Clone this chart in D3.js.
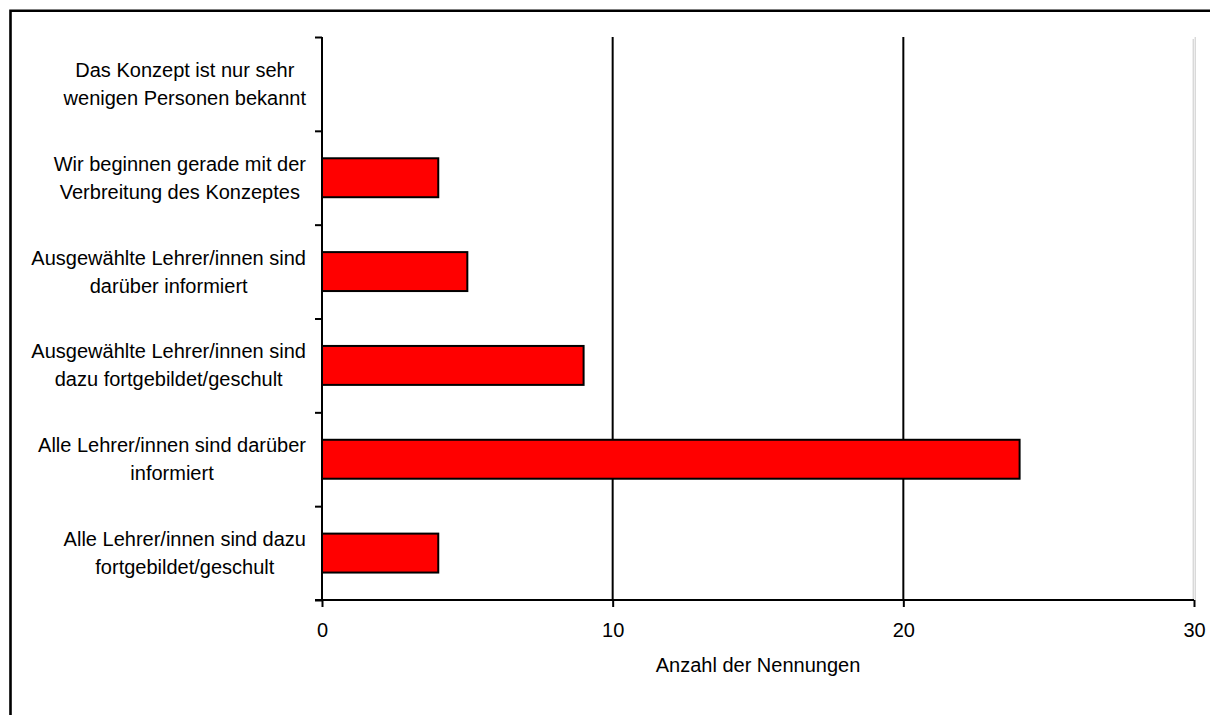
<!DOCTYPE html>
<html>
<head>
<meta charset="utf-8">
<script src="https://cdn.jsdelivr.net/npm/d3@7"></script>
<style>
  html, body { margin: 0; padding: 0; background: #fff; }
  svg { display: block; }
  text { font-family: "Liberation Sans", Arial, sans-serif; fill: #000; }
</style>
</head>
<body>
<svg id="chart" width="1210" height="715"></svg>
<script>
// Survey answers (each entry is one wrapped label, lines in order)
const categories = [
  ["Das Konzept ist nur sehr", "wenigen Personen bekannt"],
  ["Wir beginnen gerade mit der", "Verbreitung des Konzeptes"],
  ["Ausgewählte Lehrer/innen sind", "darüber informiert"],
  ["Ausgewählte Lehrer/innen sind", "dazu fortgebildet/geschult"],
  ["Alle Lehrer/innen sind darüber", "informiert"],
  ["Alle Lehrer/innen sind dazu", "fortgebildet/geschult"]
];
const counts = [0, 4, 5, 9, 24, 4];
const xTicks = [0, 10, 20, 30];
const xTitle = "Anzahl der Nennungen";

const svg = d3.select("#chart");
const plotLeft = 322, plotRight = 1194, plotTop = 37, plotBottom = 600;
const fontSize = 20;

// outer frame (open on the right and bottom)
svg.append("path")
  .attr("d", "M10.5,715V10.8H1210")
  .attr("fill", "none").attr("stroke", "#000").attr("stroke-width", 2.6);

const x = d3.scaleLinear().domain([0, 30]).range([plotLeft, plotRight]);
const y = d3.scaleBand().domain(d3.range(categories.length)).range([plotTop, plotBottom])
  .paddingInner(0.585).paddingOuter(0.2925);
const yBands = d3.scaleLinear().domain([0, categories.length]).range([plotTop, plotBottom]);

// light frame at the right edge of the plot area
svg.append("line").attr("x1", 1193.2).attr("x2", 1193.2).attr("y1", 39).attr("y2", plotBottom)
  .attr("stroke", "#c8c8c8").attr("stroke-width", 1);
svg.append("line").attr("x1", 1195.2).attr("x2", 1195.2).attr("y1", 37).attr("y2", plotBottom)
  .attr("stroke", "#c8c8c8").attr("stroke-width", 1);

// vertical gridlines
svg.append("g").selectAll("line").data(xTicks.filter(d => d > 0 && d < 30)).join("line")
  .attr("x1", d => x(d)).attr("x2", d => x(d))
  .attr("y1", plotTop).attr("y2", plotBottom)
  .attr("stroke", "#000").attr("stroke-width", 2);

// bars
svg.append("g").selectAll("rect").data(counts.map((v, i) => ({v, i})).filter(d => d.v > 0)).join("rect")
  .attr("x", x(0)).attr("y", d => y(d.i))
  .attr("width", d => x(d.v) - x(0)).attr("height", y.bandwidth())
  .attr("fill", "#ff0000").attr("stroke", "#000").attr("stroke-width", 2);

// y axis with ticks at band boundaries
const yAxis = d3.axisLeft(yBands).tickValues(d3.range(categories.length + 1))
  .tickSize(7).tickFormat("");
const gy = svg.append("g").attr("transform", `translate(${plotLeft},0)`).call(yAxis);
gy.select(".domain").attr("d", `M0,${plotTop}V${plotBottom}`).attr("stroke-width", 2);
gy.selectAll(".tick line").attr("stroke-width", 2);

// x axis
const xAxis = d3.axisBottom(x).tickValues(xTicks).tickSize(7).tickFormat(d3.format("d"));
const gx = svg.append("g").attr("transform", `translate(0,${plotBottom})`).call(xAxis);
gx.select(".domain").attr("d", `M${plotLeft - 7},0H${plotRight}`).attr("stroke-width", 2);
gx.selectAll(".tick line").attr("stroke-width", 2);
gx.selectAll(".tick text").attr("y", 23).attr("dy", "0.71em")
  .style("font-size", fontSize + "px").style("font-family", '"Liberation Sans", Arial, sans-serif');

// axis title
svg.append("text").attr("x", (plotLeft + plotRight) / 2).attr("y", 672)
  .attr("text-anchor", "middle").style("font-size", fontSize + "px").text(xTitle);

// category labels: lines centred on each other, block right-aligned
const labelRight = 306, lineGap = 28;
categories.forEach((lines, i) => {
  const cy = yBands(i + 0.5);
  const g = svg.append("g");
  const texts = lines.map((ln, k) => g.append("text")
    .style("font-size", fontSize + "px")
    .attr("y", cy + (k - (lines.length - 1) / 2) * lineGap)
    .attr("dy", "0.35em").attr("text-anchor", "middle").text(ln));
  const w = d3.max(texts, t => t.node().getComputedTextLength());
  texts.forEach(t => t.attr("x", labelRight - w / 2));
});
</script>
</body>
</html>
